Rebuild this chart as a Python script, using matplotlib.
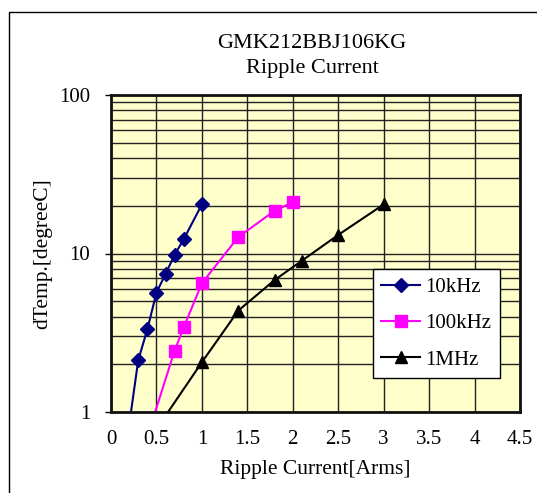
import numpy as np
import matplotlib.pyplot as plt
from matplotlib.patches import Rectangle
from matplotlib.ticker import FixedLocator, NullFormatter

plt.rcParams['font.family'] = ['Liberation Serif', 'DejaVu Serif']

# values (points below 1 are clipped by the axis)
x_10k = [0.2, 0.3, 0.4, 0.5, 0.6, 0.7, 0.8, 1.0]
y_10k = [0.83, 2.13, 3.32, 5.66, 7.43, 9.8, 12.3, 20.4]
x_100k = [0.4, 0.7, 0.8, 1.0, 1.4, 1.8, 2.0]
y_100k = [0.7, 2.44, 3.42, 6.49, 12.7, 18.6, 21.1]
x_1m = [0.5, 1.0, 1.4, 1.8, 2.1, 2.5, 3.0]
y_1m = [0.78, 2.06, 4.36, 6.8, 9.0, 13.1, 20.4]
x_ticks = [0, 0.5, 1, 1.5, 2, 2.5, 3, 3.5, 4, 4.5]
x_labels = ['0', '0.5', '1', '1.5', '2', '2.5', '3', '3.5', '4', '4.5']

fig = plt.figure(figsize=(5.37, 4.93), dpi=100)
# outer chart border
fig.patches.append(Rectangle((9 / 537, -0.05), 1.2, 1 - 12 / 493 + 0.05,
                             transform=fig.transFigure, fill=False,
                             edgecolor='black', linewidth=1.0))

ax = fig.add_axes([111 / 537, 1 - 412 / 493, 409 / 537, 317 / 493])
ax.set_facecolor('#FFFFCC')
ax.set_yscale('log')
ax.set_xlim(0, 4.5)
ax.set_ylim(1, 100)

minor = [m * 10 ** d for d in range(0, 2) for m in range(2, 10)]
ax.yaxis.set_major_locator(FixedLocator([1, 10, 100]))
ax.yaxis.set_minor_locator(FixedLocator(minor))
ax.yaxis.set_minor_formatter(NullFormatter())
ax.set_yticklabels(['1', '10', '100'])
ax.set_xticks(x_ticks)
ax.set_xticklabels(x_labels)

ax.grid(True, which='both', axis='y', color='#222222', linewidth=1.0)
ax.grid(True, which='major', axis='x', color='#222222', linewidth=1.0)
ax.set_axisbelow(True)

ax.tick_params(axis='x', which='both', length=0, labelsize=15, pad=13)
ax.tick_params(axis='y', which='major', length=4, width=1, labelsize=15, pad=11)
ax.tick_params(axis='y', which='minor', length=0)
for s in ax.spines.values():
    s.set_linewidth(2)
    s.set_color('#111111')

ax.plot(x_10k, y_10k, color='#000080', marker='D', markersize=7.5,
        linewidth=1.5, label='10kHz')
ax.plot(x_100k, y_100k, color='#FF00FF', marker='s', markersize=9,
        linewidth=1.5, label='100kHz')
ax.plot(x_1m, y_1m, color='black', marker='^', markersize=9,
        linewidth=1.5, label='1MHz')

leg = ax.legend(loc='lower right', bbox_to_anchor=(0.951, 0.107),
                fontsize=15, frameon=True, fancybox=False, framealpha=1,
                edgecolor='black', handlelength=1.9, labelspacing=0.8,
                borderpad=0.4, handletextpad=0.25, borderaxespad=0)
leg.get_frame().set_linewidth(1.0)

fig.text(312 / 537, 1 - 43 / 493, 'GMK212BBJ106KG', ha='center', va='center', fontsize=16)
fig.text(312 / 537, 1 - 68 / 493, 'Ripple Current', ha='center', va='center', fontsize=16)
ax.set_xlabel('Ripple Current[Arms]', fontsize=15.5, labelpad=8)
ax.set_ylabel('dTemp.[degreeC]', fontsize=15.5, labelpad=5)

fig.savefig('out.png', dpi=100)
